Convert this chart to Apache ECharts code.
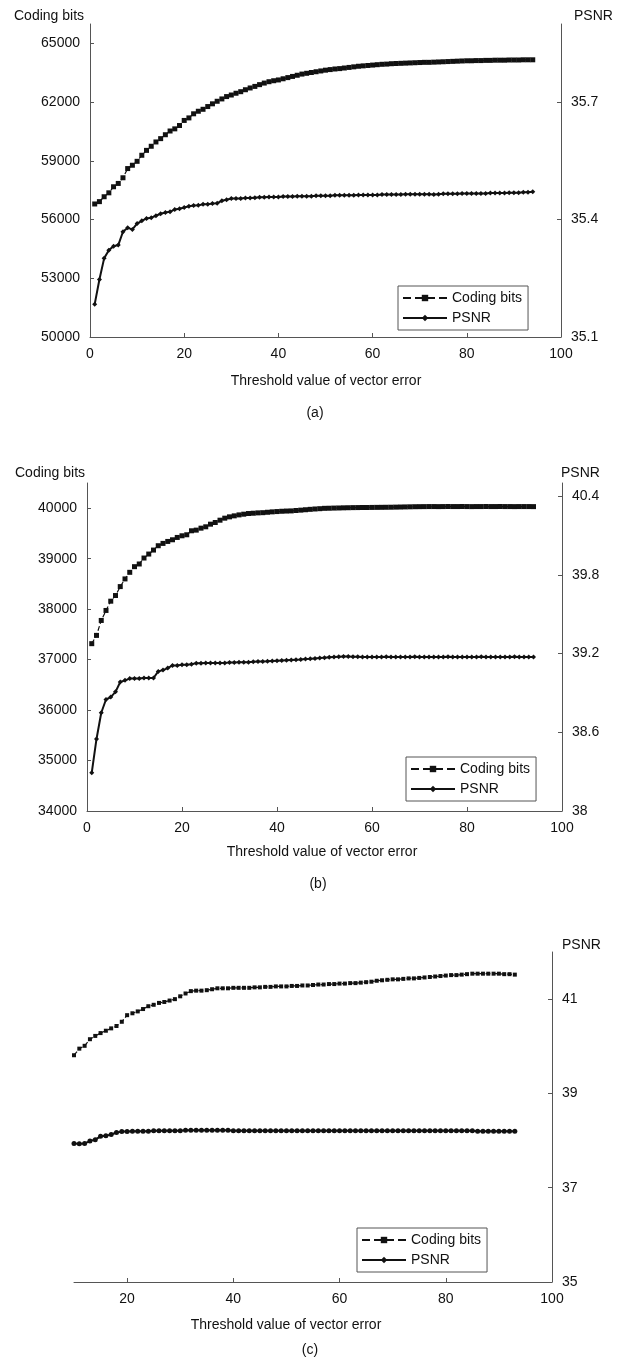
<!DOCTYPE html>
<html><head><meta charset="utf-8">
<script src="https://cdn.jsdelivr.net/npm/echarts@6/dist/echarts.min.js"></script>
<style>html,body{margin:0;padding:0;background:#fff}#c{width:617px;height:1362px}</style>
</head><body><div id="c"></div>
<script>
// ---------- data ----------
const thrAB = [1,2,3,4,5,6,7,8,9,10,11,12,13,14,15,16,17,18,19,20,21,22,23,24,25,26,27,28,29,30,31,32,33,34,35,36,37,38,39,40,41,42,43,44,45,46,47,48,49,50,51,52,53,54,55,56,57,58,59,60,61,62,63,64,65,66,67,68,69,70,71,72,73,74,75,76,77,78,79,80,81,82,83,84,85,86,87,88,89,90,91,92,93,94];
const thrC = [10,11,12,13,14,15,16,17,18,19,20,21,22,23,24,25,26,27,28,29,30,31,32,33,34,35,36,37,38,39,40,41,42,43,44,45,46,47,48,49,50,51,52,53,54,55,56,57,58,59,60,61,62,63,64,65,66,67,68,69,70,71,72,73,74,75,76,77,78,79,80,81,82,83,84,85,86,87,88,89,90,91,92,93];

const bitsA = [56800,56920,57170,57370,57680,57850,58140,58610,58780,58980,59290,59540,59750,59970,60140,60340,60530,60640,60810,61070,61200,61410,61540,61640,61780,61920,62050,62170,62290,62370,62460,62540,62640,62730,62810,62900,62980,63050,63100,63140,63200,63260,63320,63380,63440,63480,63520,63560,63600,63640,63670,63700,63720,63750,63780,63810,63840,63860,63880,63900,63920,63940,63950,63970,63980,63990,64000,64010,64020,64030,64040,64040,64050,64060,64070,64080,64090,64100,64110,64120,64120,64130,64130,64140,64140,64150,64150,64150,64160,64160,64160,64170,64170,64170];
const psnrA = [35.184,35.247,35.301,35.322,35.332,35.335,35.369,35.379,35.375,35.390,35.397,35.403,35.405,35.410,35.415,35.418,35.420,35.426,35.428,35.431,35.434,35.436,35.437,35.439,35.439,35.441,35.442,35.448,35.451,35.454,35.454,35.454,35.455,35.455,35.456,35.457,35.457,35.458,35.458,35.458,35.459,35.459,35.459,35.460,35.460,35.460,35.460,35.461,35.461,35.461,35.461,35.462,35.462,35.462,35.462,35.462,35.463,35.463,35.463,35.463,35.463,35.464,35.464,35.464,35.464,35.464,35.465,35.465,35.465,35.465,35.465,35.465,35.464,35.465,35.466,35.466,35.466,35.466,35.467,35.467,35.467,35.467,35.467,35.467,35.468,35.468,35.468,35.468,35.469,35.469,35.469,35.470,35.470,35.471];

const bitsB = [37316,37480,37776,37974,38158,38270,38447,38599,38730,38842,38895,39013,39092,39171,39257,39303,39342,39375,39421,39454,39474,39553,39566,39605,39632,39684,39717,39763,39803,39829,39849,39868,39882,39895,39901,39908,39912,39920,39928,39934,39940,39944,39947,39955,39962,39970,39978,39985,39991,39998,40000,40003,40005,40008,40010,40012,40013,40014,40015,40016,40017,40018,40019,40020,40022,40024,40026,40028,40030,40031,40032,40033,40033,40032,40033,40034,40033,40033,40034,40033,40032,40033,40033,40034,40033,40033,40034,40033,40033,40032,40033,40033,40033,40032];
const psnrB = [38.292,38.549,38.749,38.850,38.868,38.908,38.983,38.996,39.009,39.009,39.010,39.014,39.014,39.014,39.064,39.074,39.089,39.109,39.109,39.114,39.114,39.119,39.127,39.127,39.128,39.128,39.128,39.128,39.129,39.132,39.132,39.133,39.133,39.134,39.137,39.139,39.140,39.141,39.143,39.145,39.147,39.149,39.151,39.153,39.155,39.158,39.160,39.163,39.166,39.169,39.171,39.173,39.175,39.177,39.177,39.176,39.175,39.174,39.174,39.173,39.174,39.174,39.175,39.174,39.174,39.173,39.174,39.174,39.175,39.174,39.174,39.173,39.174,39.174,39.174,39.175,39.174,39.174,39.173,39.174,39.174,39.174,39.175,39.174,39.174,39.173,39.174,39.174,39.174,39.175,39.174,39.174,39.173,39.174];

// (c): left (coding bits) axis is not shown in the figure; values are read against a hidden axis spanning the same height as the PSNR axis
const bitsC = [39.81,39.95,40.01,40.15,40.22,40.28,40.33,40.38,40.43,40.52,40.66,40.70,40.74,40.79,40.85,40.88,40.92,40.94,40.97,41.00,41.06,41.12,41.17,41.18,41.18,41.19,41.21,41.23,41.23,41.23,41.24,41.24,41.24,41.24,41.25,41.25,41.26,41.26,41.27,41.27,41.27,41.28,41.28,41.29,41.29,41.30,41.31,41.31,41.32,41.32,41.33,41.33,41.34,41.34,41.35,41.36,41.37,41.39,41.40,41.41,41.42,41.42,41.43,41.44,41.44,41.45,41.46,41.47,41.48,41.49,41.50,41.51,41.51,41.52,41.53,41.54,41.54,41.54,41.54,41.54,41.54,41.53,41.53,41.52];
const psnrC = [37.94,37.93,37.94,37.99,38.02,38.09,38.10,38.13,38.17,38.19,38.19,38.20,38.20,38.20,38.20,38.21,38.21,38.21,38.21,38.21,38.21,38.22,38.22,38.22,38.22,38.22,38.22,38.22,38.22,38.22,38.21,38.21,38.21,38.21,38.21,38.21,38.21,38.21,38.21,38.21,38.21,38.21,38.21,38.21,38.21,38.21,38.21,38.21,38.21,38.21,38.21,38.21,38.21,38.21,38.21,38.21,38.21,38.21,38.21,38.21,38.21,38.21,38.21,38.21,38.21,38.21,38.21,38.21,38.21,38.21,38.21,38.21,38.21,38.21,38.21,38.21,38.20,38.20,38.20,38.20,38.20,38.20,38.20,38.20];

const xTicksAB = [0,20,40,60,80,100];
const xTicksC = [20,40,60,80,100];
const yLeftTicksA = [50000,53000,56000,59000,62000,65000];
const yRightTicksA = [35.1,35.4,35.7];
const yLeftTicksB = [34000,35000,36000,37000,38000,39000,40000];
const yRightTicksB = [38,38.6,39.2,39.8,40.4];
const yRightTicksC = [35,37,39,41];

const seriesNames = ['Coding bits','PSNR'];
const xTitle = 'Threshold value of vector error';

// ---------- styling ----------
const FONT = 'Liberation Sans, Arial, sans-serif';
const TXT = '#111';
const AX = '#555';
const pairs = (xs, ys) => xs.map((x, i) => [x, ys[i]]);

function xAxis(gi, min, max, ticks) {
  return {
    type: 'value', gridIndex: gi, min, max,
    axisLine: {show: true, lineStyle: {color: AX, width: 1}},
    axisTick: {show: true, inside: true, length: 4, customValues: ticks, lineStyle: {color: AX}},
    axisLabel: {customValues: ticks, color: TXT, fontSize: 14, fontFamily: FONT, margin: 10},
    splitLine: {show: false}
  };
}
function yAxis(gi, pos, min, max, ticks, show, fmt) {
  return {
    type: 'value', gridIndex: gi, position: pos, min, max, show,
    axisLine: {show: true, lineStyle: {color: AX, width: 1}},
    axisTick: {show: true, inside: true, length: 4, customValues: ticks, lineStyle: {color: AX}},
    axisLabel: {customValues: ticks, color: TXT, fontSize: 14, fontFamily: FONT, margin: 10,
      formatter: fmt || (v => String(v))},
    splitLine: {show: false}
  };
}
function bitsSeries(xi, yi, data, size) {
  return {
    name: seriesNames[0], type: 'line', xAxisIndex: xi, yAxisIndex: yi, data,
    symbol: 'rect', symbolSize: size, showAllSymbol: true,
    lineStyle: {color: '#111', width: 1.2, type: 'dashed'},
    itemStyle: {color: '#111'}, z: 3
  };
}
function psnrSeries(xi, yi, data, sym) {
  return {
    name: seriesNames[1], type: 'line', xAxisIndex: xi, yAxisIndex: yi, data,
    symbol: sym, symbolSize: 5, showAllSymbol: true,
    lineStyle: {color: '#111', width: 2, type: 'solid'},
    itemStyle: {color: '#111'}, z: 3
  };
}
function legend(left, top) {
  return {
    data: seriesNames, left, top, orient: 'vertical',
    borderColor: '#555', borderWidth: 1, padding: [5, 6, 5, 4], itemGap: 6,
    itemWidth: 44, itemHeight: 8, backgroundColor: '#fff',
    textStyle: {color: TXT, fontSize: 14, fontFamily: FONT}
  };
}
function txt(text, x, y, align) {
  return {type: 'text', x, y, style: {text, fill: TXT, font: '14px ' + FONT, align: align || 'left', verticalAlign: 'middle'}};
}

const chart = echarts.init(document.getElementById('c'), null, {renderer: 'canvas'});
chart.setOption({
  backgroundColor: '#fff',
  animation: false,
  grid: [
    {left: 90, top: 24, width: 471, height: 313},
    {left: 87, top: 483, width: 475, height: 328},
    {left: 74, top: 952, width: 478, height: 330}
  ],
  xAxis: [
    xAxis(0, 0, 100, xTicksAB),
    xAxis(1, 0, 100, xTicksAB),
    xAxis(2, 10, 100, xTicksC)
  ],
  yAxis: [
    yAxis(0, 'left', 50000, 66000, yLeftTicksA, true),
    yAxis(0, 'right', 35.1, 35.9, yRightTicksA, true, v => v.toFixed(1)),
    yAxis(1, 'left', 34000, 40500, yLeftTicksB, true),
    yAxis(1, 'right', 38, 40.5, yRightTicksB, true),
    yAxis(2, 'left', 35, 42, [], false),
    yAxis(2, 'right', 35, 42, yRightTicksC, true)
  ],
  legend: [legend(398, 286), legend(406, 757), legend(357, 1228)],
  series: [
    bitsSeries(0, 0, pairs(thrAB, bitsA), 5),
    psnrSeries(0, 1, pairs(thrAB, psnrA), 'diamond'),
    bitsSeries(1, 2, pairs(thrAB, bitsB), 5),
    psnrSeries(1, 3, pairs(thrAB, psnrB), 'diamond'),
    bitsSeries(2, 4, pairs(thrC, bitsC), 4),
    psnrSeries(2, 5, pairs(thrC, psnrC), 'circle')
  ],
  graphic: [
    txt('Coding bits', 14, 16), txt('PSNR', 574, 16),
    txt(xTitle, 326, 381, 'center'), txt('(a)', 315, 413, 'center'),
    txt('Coding bits', 15, 473), txt('PSNR', 561, 473),
    txt(xTitle, 322, 852, 'center'), txt('(b)', 318, 884, 'center'),
    txt('PSNR', 562, 945),
    txt(xTitle, 286, 1325, 'center'), txt('(c)', 310, 1350, 'center')
  ]
});
</script></body></html>
